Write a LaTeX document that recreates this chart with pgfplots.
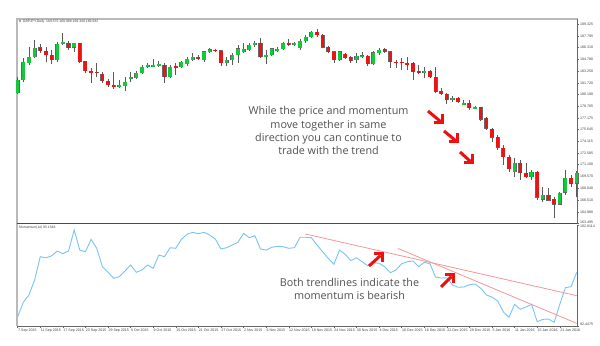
\documentclass[border=0pt]{standalone}
\usepackage{pgfplots}
\pgfplotsset{compat=1.18}
\usepackage{pgfplotstable}
\usepackage{fontspec}
\setmainfont{Open Sans}
\newfontfamily\tinyfont{Liberation Sans}
\newfontfamily\dejavu{DejaVu Sans}
\definecolor{bull}{RGB}{20,200,60}
\definecolor{bear}{RGB}{235,20,20}
\definecolor{arrowred}{RGB}{240,15,15}
\definecolor{wick}{RGB}{90,90,90}
\definecolor{frame}{RGB}{185,185,185}
\definecolor{momline}{RGB}{120,195,245}
\definecolor{trend}{RGB}{245,150,150}
\definecolor{txt}{RGB}{80,80,80}

\pgfplotstableread{
x o h l c
0 180.40 182.48 180.27 182.09
1 182.09 184.95 181.83 184.43
2 184.30 186.37 184.04 185.08
3 185.08 187.28 184.95 186.25
7 184.69 187.02 184.43 186.76
8 186.76 188.19 186.63 187.02
10 186.37 186.95 185.73 186.89
18 181.31 182.09 181.05 181.44
19 181.31 182.48 180.66 181.83
20 182.22 183.13 181.83 182.48
21 182.35 183.26 182.22 183.00
22 183.00 184.04 182.87 183.78
23 183.78 184.30 183.65 184.04
24 183.91 184.82 183.78 183.97
25 183.91 184.56 183.78 184.17
27 182.48 184.04 182.35 183.78
29 183.78 184.56 183.65 184.43
30 184.17 185.08 183.91 184.82
31 184.69 185.60 184.56 185.08
33 184.69 185.80 184.43 185.73
34 185.73 186.25 185.60 185.99
37 184.30 185.08 183.91 184.69
38 184.69 185.60 184.04 185.34
39 185.34 186.63 184.30 186.12
40 185.73 186.89 185.60 186.12
41 185.99 186.89 185.86 186.63
42 186.63 187.15 186.37 186.89
44 185.08 185.99 184.17 185.34
45 185.34 186.25 185.21 186.12
46 185.99 186.37 185.73 186.08
47 186.12 187.02 185.99 186.89
49 186.76 187.02 186.50 186.80
50 186.25 187.41 185.99 187.15
51 187.15 187.93 186.89 187.67
52 187.67 188.40 187.54 188.32
57 184.69 185.86 184.56 185.73
60 184.69 185.60 184.30 185.21
61 185.14 185.73 184.95 185.21
63 184.17 185.86 184.04 185.60
64 185.60 186.25 185.34 185.99
72 183.00 183.78 182.35 183.26
77 179.49 180.01 179.23 179.75
79 178.97 179.49 178.84 179.10
81 178.45 178.71 178.32 178.58
88 170.14 171.96 169.49 171.31
91 169.49 170.40 169.10 170.14
93 166.63 168.19 166.24 167.15
96 165.98 167.54 165.85 167.41
97 167.54 170.40 167.15 169.36
99 168.71 170.27 166.89 170.01
}\bulltab

\pgfplotstableread{
x o h l c
4 186.25 186.76 185.60 185.86
5 185.86 186.37 184.43 185.34
6 185.34 185.99 184.17 184.69
9 186.89 187.15 185.99 186.25
11 186.89 186.95 184.30 184.43
12 184.56 184.60 183.00 183.26
13 183.26 183.65 181.70 183.00
14 183.13 184.30 182.48 183.00
15 182.87 183.13 181.70 181.96
16 181.96 182.22 181.18 181.44
17 181.44 183.13 180.92 181.18
26 184.04 184.30 181.70 182.48
28 183.91 184.30 182.74 183.65
32 185.08 185.34 184.69 184.82
35 185.99 186.12 185.73 185.86
36 185.86 185.99 183.91 184.30
43 186.89 187.54 184.95 185.08
48 186.89 187.41 186.50 186.76
53 188.32 188.71 187.67 187.93
54 187.93 188.00 186.25 186.37
55 186.37 186.50 185.60 185.73
56 185.73 185.80 184.30 184.69
58 185.47 185.60 184.82 184.95
59 185.08 185.21 184.30 184.56
62 185.21 185.34 183.91 184.17
65 186.12 186.25 185.60 185.73
66 185.73 185.80 183.65 184.43
67 184.43 184.69 183.65 184.30
68 184.43 184.95 183.39 184.30
69 184.30 185.08 183.39 184.04
70 184.30 184.43 182.09 183.13
71 183.26 184.04 182.87 183.00
73 183.26 183.39 182.35 182.48
74 182.48 183.78 180.45 180.53
75 180.66 181.05 180.14 180.27
76 180.27 180.40 178.97 179.49
78 179.75 179.88 179.10 179.23
80 179.10 179.49 178.19 178.45
82 178.58 178.64 176.83 177.02
83 177.15 177.28 175.59 175.85
84 175.72 175.85 174.07 174.68
85 174.68 174.94 173.00 173.38
86 173.26 173.64 171.05 172.09
87 172.09 172.35 170.14 170.53
89 171.31 171.70 169.10 170.01
90 170.01 171.31 169.40 169.49
92 170.14 170.27 166.50 166.89
94 167.15 168.06 166.37 166.50
95 166.63 166.89 164.16 165.98
98 169.36 169.75 168.19 168.58
}\beartab

\pgfplotstableread{
x m
0 93.40
1 94.88
2 95.63
3 97.17
4 99.56
5 99.45
6 99.63
7 100.14
8 99.87
9 100.14
10 102.30
11 100.24
12 100.07
13 101.34
14 100.42
15 98.53
16 97.96
17 97.34
18 97.51
19 98.09
20 98.71
21 97.96
22 98.19
23 98.71
24 98.37
25 99.73
26 99.56
27 100.48
28 100.42
29 101.34
30 101.86
31 102.06
32 101.92
33 102.06
34 101.78
35 101.37
36 100.35
37 100.48
38 100.76
39 101.03
40 101.96
41 101.51
42 101.71
43 100.35
44 100.24
45 100.52
46 100.62
47 100.58
48 100.42
49 100.48
50 101.55
51 101.55
52 101.51
53 100.76
54 100.07
55 99.39
56 98.78
57 100.24
58 99.80
59 99.15
60 99.45
61 99.04
62 98.63
63 98.94
64 98.88
65 98.53
66 97.92
67 98.19
68 98.84
69 99.04
70 99.12
71 98.53
72 98.98
73 98.84
74 97.47
75 97.37
76 97.40
77 96.65
78 96.42
79 96.45
80 96.68
81 96.76
82 96.31
83 95.63
84 95.42
85 95.01
86 93.91
87 93.34
88 94.67
89 94.16
90 94.40
91 94.67
92 92.89
93 93.13
94 93.16
95 92.83
96 94.67
97 96.38
98 96.48
99 97.96
}\momtab

\newcommand{\arrDR}[4]{%
  \draw[arrowred, line width=3bp] (#1bp,#2bp) -- (#3bp-1.5bp,#4bp+1.5bp);
  \draw[arrowred, line width=3bp, miter limit=10] (#3bp-8.5bp,#4bp) -- (#3bp,#4bp) -- (#3bp,#4bp+8.5bp);
}
\newcommand{\arrUR}[4]{%
  \draw[arrowred, line width=3bp] (#1bp,#2bp) -- (#3bp-1.5bp,#4bp-1.5bp);
  \draw[arrowred, line width=3bp, miter limit=10] (#3bp-8.5bp,#4bp) -- (#3bp,#4bp) -- (#3bp,#4bp-8.5bp);
}

\pgfplotsset{
  candle wick/.style={draw=none, mark=none, forget plot,
    error bars/.cd, y dir=both, y explicit, error mark=none,
    error bar style={draw=wick, line width=0.8bp}},
  candle body/.style 2 args={draw=none, mark=none, forget plot,
    error bars/.cd, y dir=both, y explicit, error mark=none,
    error bar style={draw=#1, line width=#2}},
  tinylab/.style={font=\tinyfont\fontsize{3.6bp}{4bp}\selectfont, text=black!75},
}

\begin{document}
\begin{tikzpicture}
\path[use as bounding box] (0,0) rectangle (600bp,346bp);
% gray frame (left and top)
\draw[frame, line width=2bp] (16.9bp,20bp) -- (16.9bp,327bp) -- (578bp,327bp);

\begin{axis}[
  at={(17bp,122.8bp)}, anchor=south west, scale only axis,
  width=560bp, height=204.2bp,
  xmin=-0.12, xmax=99.05, ymin=163.495, ymax=190.01,
  clip=false,
  axis x line*=bottom, axis y line*=right,
  x axis line style={draw=black!70, line width=1.3bp},
  y axis line style={draw=black!60, line width=0.5bp},
  xtick=\empty,
  ytick={189.325,187.795,186.310,184.780,183.250,181.720,180.190,178.705,177.175,175.645,174.115,172.585,171.100,169.570,168.040,166.510,164.980},
  yticklabels={189.325,187.795,186.310,184.780,183.250,181.720,180.190,178.705,177.175,175.645,174.115,172.585,171.100,169.570,168.040,166.510,164.980},
  extra y ticks={163.495},
  extra y tick labels={163.495},
  extra y tick style={yticklabel style={yshift=1.3bp}},
  tick align=outside, major tick length=2bp,
  tick style={draw=black!60, line width=0.4bp},
  yticklabel style={tinylab, inner sep=1bp},
]
\addplot[candle wick] table[x=x, y expr={(\thisrow{h}+\thisrow{l})/2}, y error expr={(\thisrow{h}-\thisrow{l})/2}] {\bulltab};
\addplot[candle wick] table[x=x, y expr={(\thisrow{h}+\thisrow{l})/2}, y error expr={(\thisrow{h}-\thisrow{l})/2}] {\beartab};
\addplot[candle body={black!60}{4.1bp}] table[x=x, y expr={(\thisrow{o}+\thisrow{c})/2}, y error expr={max(abs(\thisrow{c}-\thisrow{o})/2,0.05)+0.06}] {\bulltab};
\addplot[candle body={black!60}{4.1bp}] table[x=x, y expr={(\thisrow{o}+\thisrow{c})/2}, y error expr={max(abs(\thisrow{c}-\thisrow{o})/2,0.05)+0.06}] {\beartab};
\addplot[candle body={bull}{3.3bp}] table[x=x, y expr={(\thisrow{o}+\thisrow{c})/2}, y error expr={max(abs(\thisrow{c}-\thisrow{o})/2,0.05)}] {\bulltab};
\addplot[candle body={bear}{3.3bp}] table[x=x, y expr={(\thisrow{o}+\thisrow{c})/2}, y error expr={max(abs(\thisrow{c}-\thisrow{o})/2,0.05)}] {\beartab};
\end{axis}

\begin{axis}[
  at={(17bp,20bp)}, anchor=south west, scale only axis,
  width=560bp, height=101bp,
  xmin=-0.12, xmax=99.05, ymin=92.4475, ymax=102.8114,
  clip=false,
  axis x line*=bottom, axis y line*=right,
  x axis line style={draw=black!60, line width=0.5bp},
  y axis line style={draw=black!60, line width=0.5bp},
  xtick={0,4,...,96},
  xticklabels={7 Sep 2015,11 Sep 2015,17 Sep 2015,23 Sep 2015,29 Sep 2015,5 Oct 2015,9 Oct 2015,15 Oct 2015,21 Oct 2015,27 Oct 2015,2 Nov 2015,6 Nov 2015,12 Nov 2015,18 Nov 2015,24 Nov 2015,30 Nov 2015,4 Dec 2015,10 Dec 2015,16 Dec 2015,22 Dec 2015,29 Dec 2015,5 Jan 2016,11 Jan 2016,15 Jan 2016,21 Jan 2016},
  xticklabel style={tinylab, anchor=north west, inner sep=0.6bp, xshift=-0.3bp},
  ytick={92.4475},
  yticklabels={92.4475},
  yticklabel style={tinylab, inner sep=1bp, yshift=1.5bp},
  extra y ticks={102.8114},
  extra y tick labels={102.8114},
  extra y tick style={yticklabel style={yshift=-3bp}},
  tick align=outside, major tick length=2bp,
  tick style={draw=black!60, line width=0.4bp},
]
\addplot[momline, line width=0.9bp] table[x=x, y=m] {\momtab};
\addplot[trend, line width=0.8bp] coordinates {(50.94,101.89) (99.0,95.56)};
\addplot[trend, line width=0.8bp] coordinates {(67.36,100.40) (99.0,92.72)};
\end{axis}

% small header texts
\node[anchor=west, inner sep=0pt, text=black!75] at (19bp,324.5bp) {{\dejavu\fontsize{2.6bp}{3bp}\selectfont ▼}\,{\tinyfont\fontsize{3.4bp}{4bp}\selectfont GBPJPY,Daily\ \ 169.575 169.988 169.349 169.632}};
\node[anchor=west, inner sep=0pt, text=black!75] at (19bp,118bp) {\tinyfont\fontsize{3.4bp}{4bp}\selectfont Momentum(14) 95.1548};

% annotation texts
\node[text=txt, align=center, inner sep=0pt, font=\fontsize{10.8bp}{13.4bp}\selectfont] at (328.5bp,215.3bp) {While the price and momentum\\move together in same\\direction you can continue to\\trade with the trend};
\node[text=txt, align=center, inner sep=0pt, font=\fontsize{10.8bp}{13.4bp}\selectfont] at (349.5bp,57bp) {Both trendlines indicate the\\momentum is bearish};

% arrows
\arrDR{428}{235}{442}{223}
\arrDR{444}{215}{457}{204}
\arrDR{460}{194}{472}{183}
\arrUR{369}{80}{382}{92}
\arrUR{441}{59}{453}{71}
\end{tikzpicture}
\end{document}
